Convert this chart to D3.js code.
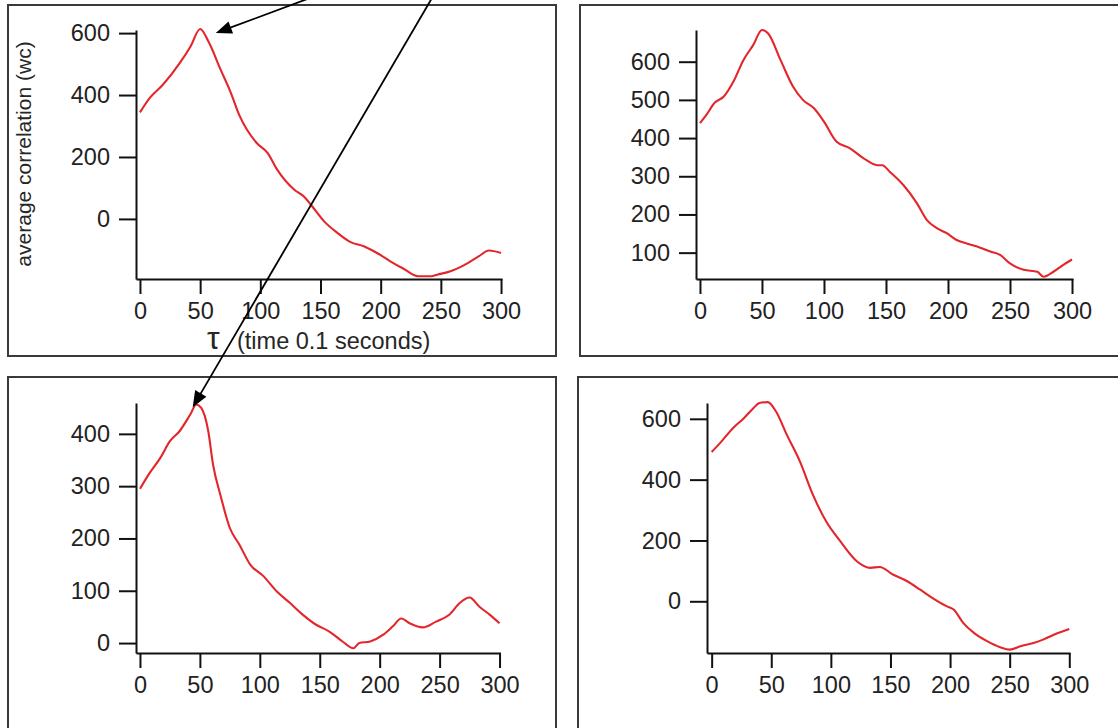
<!DOCTYPE html>
<html><head><meta charset="utf-8">
<script src="https://cdn.jsdelivr.net/npm/d3@7"></script>
<style>
body{margin:0;background:#fff}
svg{display:block}
text{font-family:"Liberation Sans",Arial,Helvetica,sans-serif}
</style>
</head><body>
<svg id="c" width="1118" height="728"></svg>
<script>
// ---------- data ----------
const xTicks = [0, 50, 100, 150, 200, 250, 300];

const tauA  = [0, 8, 19, 33, 42, 50, 57, 67, 75, 83, 97, 106, 114, 128, 136, 143, 153, 164, 175, 186, 197, 208, 219, 231, 242, 247, 258, 269, 281, 290, 300];
const corrA = [344, 390, 433, 503, 557, 613, 572, 482, 412, 331, 245, 213, 159, 95, 73, 41, -8, -45, -75, -88, -110, -137, -161, -185, -185, -180, -169, -150, -122, -102, -110];
const yTicksA = [0, 200, 400, 600];

const tauB  = [0, 5, 12, 19, 27, 35, 43, 50, 55, 65, 75, 83, 92, 100, 110, 121, 132, 143, 147, 153, 164, 175, 183, 191, 199, 207, 215, 226, 234, 242, 250, 261, 272, 277, 285, 293, 300];
const corrB = [439, 460, 493, 508, 548, 604, 644, 683, 674, 604, 535, 500, 478, 443, 391, 373, 347, 329, 329, 312, 277, 229, 185, 164, 151, 133, 124, 113, 103, 94, 72, 55, 50, 37, 50, 68, 82];
const yTicksB = [100, 200, 300, 400, 500, 600];

const tauC  = [0, 8, 17, 25, 33, 42, 47, 51, 57, 61, 67, 75, 83, 92, 103, 114, 125, 136, 147, 158, 169, 178, 183, 192, 203, 211, 218, 225, 236, 247, 258, 267, 275, 283, 292, 300];
const corrC = [295, 325, 354, 386, 405, 437, 456, 450, 405, 341, 284, 220, 188, 150, 128, 99, 77, 54, 35, 22, 3, -10, 0, 3, 16, 32, 47, 38, 30, 41, 54, 77, 87, 70, 54, 38];
const yTicksC = [0, 100, 200, 300, 400];

const tauD  = [0, 7, 18, 27, 35, 40, 47, 54, 63, 74, 85, 96, 108, 122, 133, 141, 152, 164, 175, 186, 197, 203, 211, 220, 231, 242, 250, 259, 270, 278, 287, 300];
const corrD = [491, 520, 570, 602, 635, 652, 655, 624, 548, 460, 350, 263, 197, 131, 110, 113, 88, 66, 38, 9, -16, -27, -71, -104, -131, -151, -159, -148, -137, -126, -110, -91];
const yTicksD = [0, 200, 400, 600];

const yTitle = "average correlation (wc)";
const xTitleSym = "τ";
const xTitleText = "(time 0.1 seconds)";

// ---------- layout ----------
const svg = d3.select("#c");
const frames = [[8,5,548,351],[580,5,560,351],[8,377,548,360],[578,377,560,360]];
svg.selectAll("rect.frame").data(frames).join("rect")
  .attr("class","frame")
  .attr("x",d=>d[0]).attr("y",d=>d[1]).attr("width",d=>d[2]).attr("height",d=>d[3])
  .attr("fill","none").attr("stroke","#3a3a3a").attr("stroke-width",2);

const panels = [
  {tau:tauA, corr:corrA, yTicks:yTicksA, xDom:[-3.3,300.8], yDom:[-194,610], xr:[136,502], yr:[279,30]},
  {tau:tauB, corr:corrB, yTicks:yTicksB, xDom:[-3.2,300.8], yDom:[31,683],   xr:[696,1073], yr:[279,30]},
  {tau:tauC, corr:corrC, yTicks:yTicksC, xDom:[-3.3,300.8], yDom:[-19,459],  xr:[136,500.5], yr:[653,403]},
  {tau:tauD, corr:corrD, yTicks:yTicksD, xDom:[-3.9,300.6], yDom:[-170,652], xr:[707,1070], yr:[653,403]}
];

panels.forEach(p => {
  p.x = d3.scaleLinear().domain(p.xDom).range(p.xr);
  p.y = d3.scaleLinear().domain(p.yDom).range(p.yr);
  const g = svg.append("g");
  const xa = d3.axisBottom(p.x).tickValues(xTicks).tickSize(15).tickSizeOuter(0).tickPadding(8).tickFormat(d3.format("d"));
  const ya = d3.axisLeft(p.y).tickValues(p.yTicks).tickSize(17).tickSizeOuter(0).tickPadding(9).tickFormat(d3.format("d"));
  const gx = g.append("g").attr("transform",`translate(0,${p.yr[0]})`).call(xa);
  const gy = g.append("g").attr("transform",`translate(${p.xr[0]},0)`).call(ya);
  [gx,gy].forEach(a => {
    a.attr("color","#111");
    a.selectAll("path,line").attr("stroke-width",2);
    a.selectAll("text").attr("font-size",23.5).attr("fill","#222")
      .attr("font-family","'Liberation Sans',Arial,sans-serif");
  });
  const data = p.tau.map((t,i)=>[t,p.corr[i]]);
  g.append("path").datum(data)
    .attr("fill","none").attr("stroke","#e3262b").attr("stroke-width",2.1)
    .attr("stroke-linejoin","round")
    .attr("d", d3.line().curve(d3.curveMonotoneX).x(d=>p.x(d[0])).y(d=>p.y(d[1])));
});

// titles (top-left panel)
svg.append("text")
  .attr("transform","translate(31,154) rotate(-90)")
  .attr("text-anchor","middle").attr("font-size",21).attr("fill","#262626")
  .text(yTitle);
const xt = svg.append("text").attr("y",349).attr("fill","#262626");
xt.append("tspan").attr("x",207).attr("font-size",32).text(xTitleSym);
xt.append("tspan").attr("x",237).attr("font-size",23.5).text(xTitleText);

// arrows
function arrow(x0,y0,x1,y1){
  const dx=x1-x0, dy=y1-y0, L=Math.hypot(dx,dy), ux=dx/L, uy=dy/L;
  const hl=16, hw=6.5;
  const bx=x1-ux*hl, by=y1-uy*hl;
  svg.append("line").attr("x1",x0).attr("y1",y0).attr("x2",bx+ux*2).attr("y2",by+uy*2)
    .attr("stroke","#000").attr("stroke-width",1.8);
  svg.append("polygon")
    .attr("points",[[x1,y1],[bx-uy*hw,by+ux*hw],[bx+uy*hw,by-ux*hw]].map(q=>q.join(",")).join(" "))
    .attr("fill","#000");
}
const pA = panels[0], pC = panels[2];
arrow(310,-2, pA.x(63), pA.y(600));
arrow(432,-2, pC.x(44), pC.y(451));
</script>
</body></html>
